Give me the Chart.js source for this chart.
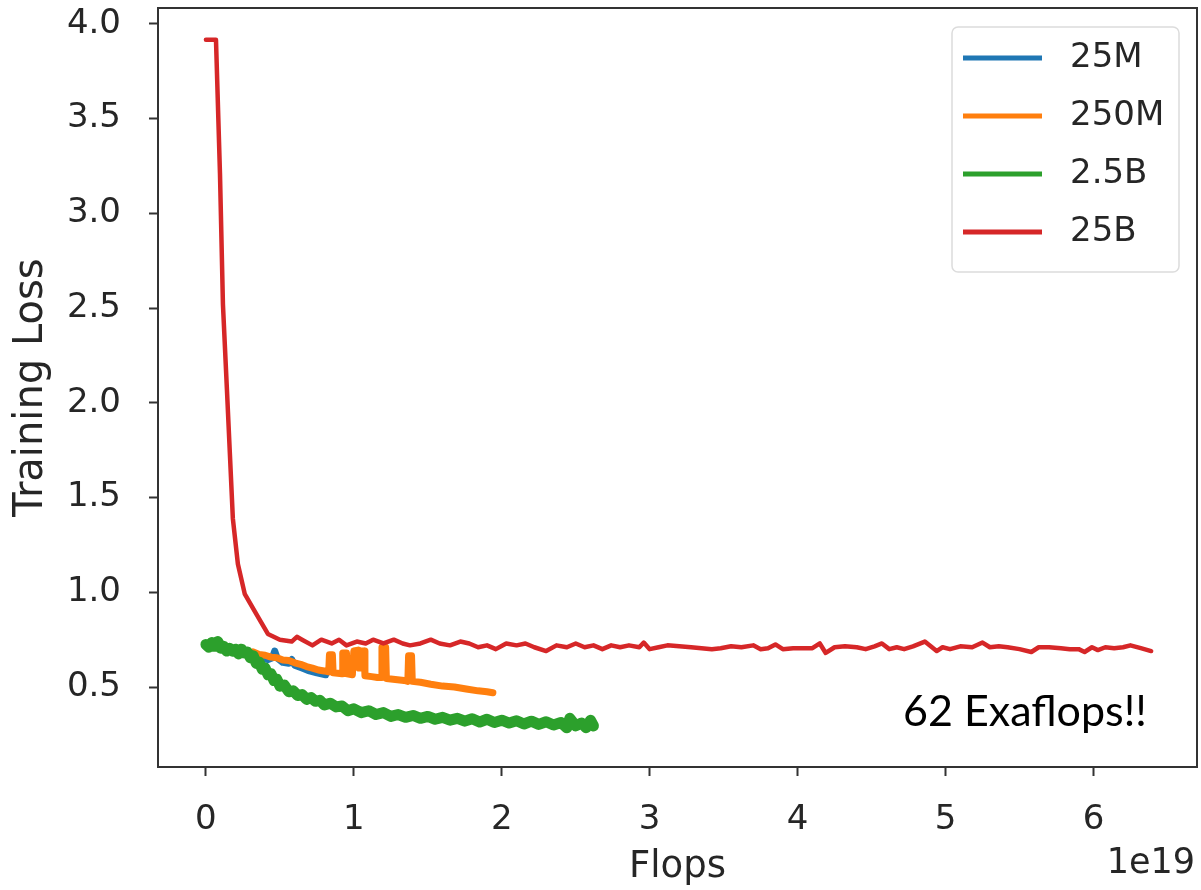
<!DOCTYPE html>
<html>
<head>
<meta charset="utf-8">
<title>Training Loss vs Flops</title>
<script src="https://cdn.jsdelivr.net/npm/chart.js@4.4.1/dist/chart.umd.min.js"></script>
<style>
  html, body { margin: 0; padding: 0; background: #fff; }
  #wrap { width: 1201px; height: 890px; }
</style>
</head>
<body>
<div id="wrap"><canvas id="chart" width="1201" height="890"></canvas></div>
<script>
// Axis setup (Flops in units of 1e19)
const xTicks = [0, 1, 2, 3, 4, 5, 6];
const yTicks = [0.5, 1.0, 1.5, 2.0, 2.5, 3.0, 3.5, 4.0];
const xLimits = [-0.324, 6.70];
const yLimits = [0.078, 4.084];

const seriesNames = ['25M', '250M', '2.5B', '25B'];
const seriesColors = ['#1f77b4', '#ff7f0e', '#2ca02c', '#d62728'];

// 25M
const flops25M = [0.33, 0.38, 0.42, 0.45, 0.465, 0.48, 0.52, 0.56, 0.58, 0.60, 0.65, 0.70, 0.75, 0.81];
const loss25M  = [0.665, 0.65, 0.645, 0.655, 0.69, 0.655, 0.63, 0.625, 0.645, 0.615, 0.60, 0.585, 0.575, 0.565];

// 250M
const flops250M = [0.32, 0.36, 0.40, 0.44, 0.48, 0.52, 0.56, 0.60, 0.64, 0.68, 0.72, 0.76, 0.80, 0.83,
  0.835, 0.855, 0.86, 0.92, 0.925, 0.95, 0.955, 0.99, 1.00, 1.03, 1.035, 1.045, 1.05, 1.07, 1.075,
  1.12, 1.16, 1.185, 1.19, 1.215, 1.22, 1.28, 1.34, 1.365, 1.37, 1.39, 1.395, 1.45, 1.52, 1.60,
  1.68, 1.76, 1.84, 1.90, 1.94];
const loss250M = [0.685, 0.672, 0.668, 0.658, 0.655, 0.643, 0.64, 0.628, 0.62, 0.608, 0.60, 0.59, 0.585, 0.58,
  0.67, 0.67, 0.575, 0.57, 0.68, 0.68, 0.57, 0.565, 0.69, 0.695, 0.60, 0.60, 0.69, 0.69, 0.56,
  0.555, 0.55, 0.55, 0.71, 0.71, 0.545, 0.54, 0.535, 0.53, 0.665, 0.665, 0.53, 0.525, 0.515, 0.505,
  0.50, 0.49, 0.48, 0.475, 0.47];

// 2.5B
const flops2_5B = [0.00, 0.02, 0.04, 0.06, 0.08, 0.10, 0.12, 0.14, 0.16, 0.18, 0.20, 0.22, 0.24, 0.26,
  0.28, 0.30, 0.32, 0.34, 0.36, 0.38, 0.40, 0.42, 0.44, 0.46, 0.48, 0.50, 0.53, 0.56, 0.59, 0.62,
  0.65, 0.68, 0.71, 0.74, 0.77, 0.80, 0.84, 0.88, 0.92, 0.96, 1.00, 1.05, 1.10, 1.15, 1.20, 1.25,
  1.30, 1.35, 1.40, 1.45, 1.50, 1.55, 1.60, 1.65, 1.70, 1.75, 1.80, 1.85, 1.90, 1.95, 2.00, 2.05,
  2.10, 2.15, 2.20, 2.25, 2.30, 2.35, 2.40, 2.44, 2.46, 2.50, 2.54, 2.57, 2.60, 2.62];
const loss2_5B = [0.725, 0.71, 0.735, 0.715, 0.74, 0.705, 0.715, 0.69, 0.705, 0.69, 0.70, 0.675, 0.70, 0.68,
  0.685, 0.655, 0.665, 0.625, 0.63, 0.595, 0.60, 0.565, 0.57, 0.535, 0.54, 0.505, 0.51, 0.475, 0.48, 0.455,
  0.46, 0.435, 0.445, 0.425, 0.43, 0.405, 0.415, 0.395, 0.40, 0.375, 0.385, 0.365, 0.375, 0.355, 0.365, 0.345,
  0.355, 0.34, 0.35, 0.335, 0.345, 0.33, 0.34, 0.325, 0.335, 0.32, 0.333, 0.315, 0.33, 0.313, 0.325, 0.31,
  0.322, 0.305, 0.32, 0.303, 0.317, 0.30, 0.313, 0.285, 0.335, 0.295, 0.31, 0.285, 0.325, 0.295];

// 25B
const flops25B = [0.00, 0.068, 0.095, 0.115, 0.142, 0.162, 0.182, 0.216, 0.263, 0.345, 0.419, 0.50, 0.58, 0.615,
  0.65, 0.72, 0.78, 0.85, 0.90, 0.95, 1.02, 1.08, 1.13, 1.20, 1.27, 1.33, 1.38, 1.45, 1.52, 1.58,
  1.65, 1.72, 1.78, 1.84, 1.90, 1.96, 2.03, 2.10, 2.16, 2.22, 2.30, 2.37, 2.44, 2.50, 2.56, 2.62,
  2.68, 2.74, 2.80, 2.86, 2.93, 2.96, 3.00, 3.06, 3.12, 3.20, 3.28, 3.35, 3.42, 3.48, 3.55, 3.62,
  3.70, 3.75, 3.80, 3.85, 3.90, 3.97, 4.05, 4.10, 4.15, 4.19, 4.25, 4.32, 4.40, 4.46, 4.52, 4.57,
  4.62, 4.67, 4.72, 4.78, 4.86, 4.94, 4.98, 5.03, 5.10, 5.18, 5.25, 5.30, 5.36, 5.42, 5.50, 5.58,
  5.63, 5.70, 5.78, 5.84, 5.90, 5.94, 5.99, 6.03, 6.08, 6.14, 6.20, 6.25, 6.32, 6.39];
const loss25B = [3.916, 3.916, 3.21, 2.52, 2.07, 1.73, 1.39, 1.15, 0.99, 0.88, 0.78, 0.75, 0.74, 0.765,
  0.75, 0.72, 0.75, 0.73, 0.75, 0.72, 0.74, 0.73, 0.75, 0.73, 0.75, 0.73, 0.72, 0.73, 0.75, 0.73,
  0.72, 0.74, 0.73, 0.71, 0.72, 0.70, 0.73, 0.72, 0.73, 0.71, 0.69, 0.72, 0.71, 0.73, 0.71, 0.72,
  0.70, 0.72, 0.71, 0.72, 0.71, 0.735, 0.70, 0.71, 0.72, 0.715, 0.71, 0.705, 0.70, 0.705, 0.715, 0.71,
  0.72, 0.70, 0.705, 0.725, 0.70, 0.705, 0.705, 0.705, 0.73, 0.68, 0.71, 0.715, 0.71, 0.70, 0.715, 0.73,
  0.70, 0.71, 0.70, 0.715, 0.74, 0.69, 0.71, 0.70, 0.715, 0.71, 0.735, 0.71, 0.715, 0.71, 0.70, 0.685,
  0.71, 0.71, 0.705, 0.70, 0.70, 0.685, 0.71, 0.695, 0.71, 0.705, 0.71, 0.72, 0.705, 0.69];

const annotationText = '62 Exaflops!!';
const offsetText = '1e19';

const toPoints = (xs, ys) => xs.map((x, i) => ({ x: x, y: ys[i] }));

const TEXT_COLOR = '#262626';
const FRAME_COLOR = '#333333';

Chart.defaults.font.family = "'DejaVu Sans', sans-serif";
Chart.defaults.color = TEXT_COLOR;

const lineDataset = (idx, xs, ys, width, order) => ({
  label: seriesNames[idx],
  data: toPoints(xs, ys),
  borderColor: seriesColors[idx],
  backgroundColor: seriesColors[idx],
  borderWidth: width,
  pointRadius: 0,
  tension: 0,
  borderJoinStyle: 'round',
  borderCapStyle: 'round',
  order: order
});

// frame, legend box and the text extras
const extrasPlugin = {
  id: 'extras',
  afterDraw: (chart) => {
    const ctx = chart.ctx;
    const area = chart.chartArea;
    ctx.save();

    // full frame round the plot
    ctx.strokeStyle = FRAME_COLOR;
    ctx.lineWidth = 2;
    ctx.strokeRect(area.left, area.top, area.right - area.left, area.bottom - area.top);

    // legend
    const boxL = area.right - 245, boxT = area.top + 19, boxW = 227, boxH = 245;
    ctx.beginPath();
    ctx.roundRect(boxL, boxT, boxW, boxH, 6);
    ctx.fillStyle = 'rgba(255,255,255,0.85)';
    ctx.fill();
    ctx.strokeStyle = '#dcdcdc';
    ctx.lineWidth = 1.5;
    ctx.stroke();

    ctx.font = "34px 'DejaVu Sans'";
    ctx.textBaseline = 'middle';
    ctx.textAlign = 'left';
    seriesNames.forEach((name, i) => {
      const y = boxT + 31 + i * 58;
      ctx.strokeStyle = seriesColors[i];
      ctx.lineWidth = 5;
      ctx.lineCap = 'butt';
      ctx.beginPath();
      ctx.moveTo(boxL + 11, y);
      ctx.lineTo(boxL + 90, y);
      ctx.stroke();
      ctx.fillStyle = TEXT_COLOR;
      ctx.fillText(name, boxL + 118, y);
    });

    // offset text of the x axis
    ctx.textBaseline = 'alphabetic';
    ctx.textAlign = 'right';
    ctx.font = "35px 'DejaVu Sans'";
    ctx.fillStyle = TEXT_COLOR;
    ctx.fillText(offsetText, area.right - 2, 873);

    // annotation
    ctx.textAlign = 'left';
    ctx.font = "43px Lato";
    ctx.fillStyle = '#000';
    ctx.fillText(annotationText, 903, 726);

    ctx.restore();
  }
};

const ctx = document.getElementById('chart').getContext('2d');
const chart = new Chart(ctx, {
  type: 'line',
  data: {
    datasets: [
      lineDataset(0, flops25M, loss25M, 7, 4),
      lineDataset(1, flops250M, loss250M, 7, 3),
      lineDataset(2, flops2_5B, loss2_5B, 11, 2),
      lineDataset(3, flops25B, loss25B, 4.5, 1)
    ]
  },
  options: {
    responsive: false,
    animation: false,
    layout: { padding: { top: 8, right: 4, left: 0, bottom: 0 } },
    plugins: {
      legend: { display: false },
      tooltip: { enabled: false }
    },
    scales: {
      x: {
        type: 'linear',
        min: xLimits[0],
        max: xLimits[1],
        afterBuildTicks: (scale) => { scale.ticks = xTicks.map(v => ({ value: v })); },
        afterFit: (scale) => {
          scale.height = 123;
          scale.paddingLeft = 0;
          scale.paddingRight = 0;
        },
        ticks: {
          font: { size: 34 },
          color: TEXT_COLOR,
          padding: 24,
          maxRotation: 0,
          callback: (value) => String(value)
        },
        grid: {
          drawOnChartArea: false,
          drawTicks: true,
          tickLength: 9,
          tickWidth: 2,
          tickColor: FRAME_COLOR
        },
        border: { display: false },
        title: {
          display: true,
          text: 'Flops',
          font: { size: 37 },
          color: TEXT_COLOR,
          padding: { top: 0, bottom: 0 }
        }
      },
      y: {
        type: 'linear',
        min: yLimits[0],
        max: yLimits[1],
        afterBuildTicks: (scale) => { scale.ticks = yTicks.map(v => ({ value: v })); },
        afterFit: (scale) => {
          scale.width = 158;
          scale.paddingTop = 0;
          scale.paddingBottom = 0;
        },
        ticks: {
          font: { size: 34 },
          color: TEXT_COLOR,
          padding: 28,
          callback: (value) => value.toFixed(1)
        },
        grid: {
          drawOnChartArea: false,
          drawTicks: true,
          tickLength: 9,
          tickWidth: 2,
          tickColor: FRAME_COLOR
        },
        border: { display: false },
        title: {
          display: true,
          text: 'Training Loss',
          font: { size: 40 },
          color: TEXT_COLOR,
          padding: { top: 8, bottom: 0 }
        }
      }
    }
  },
  plugins: [extrasPlugin]
});
</script>
</body>
</html>
